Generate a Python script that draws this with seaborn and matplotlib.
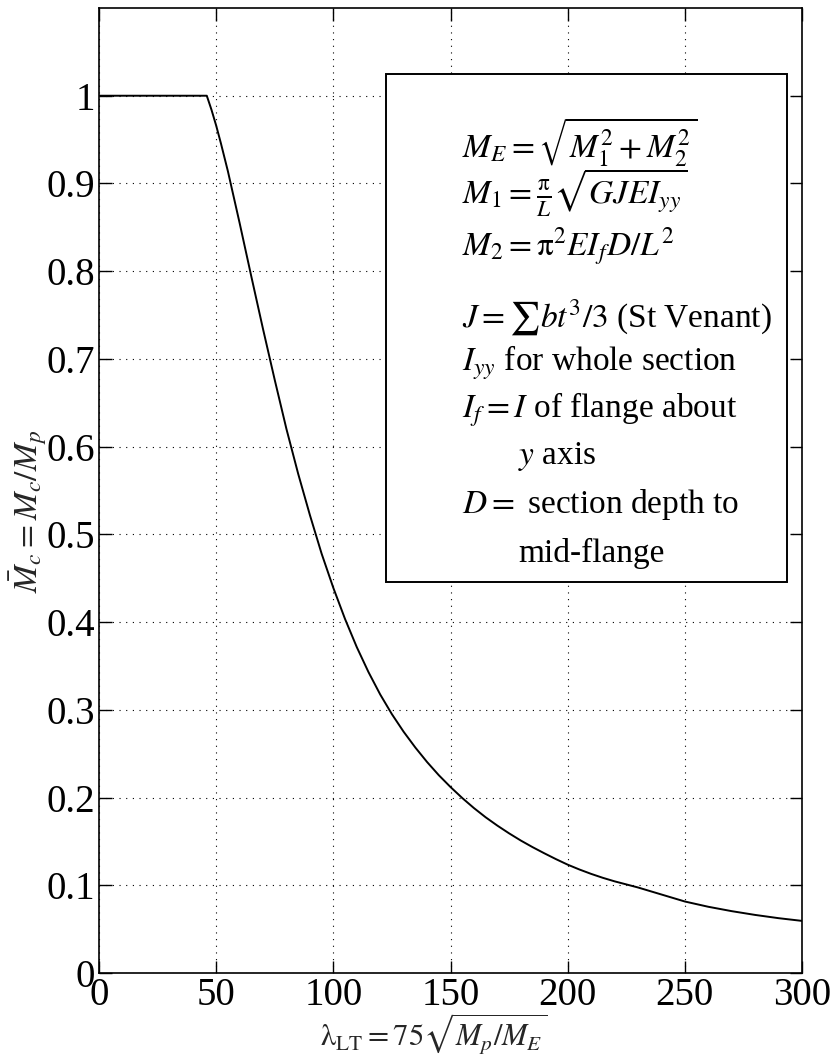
import matplotlib
matplotlib.use("Agg")
import matplotlib.pyplot as plt
import seaborn as sns
import pandas as pd
from matplotlib.patches import Rectangle

# ---- data ----
slenderness = [0, 46, 48, 50, 52, 55, 60, 65, 70, 75, 80, 85, 90, 95, 100,
               105, 110, 115, 120, 125, 130, 135, 140, 145, 150, 155, 160,
               165, 170, 175, 180, 185, 190, 195, 200, 205, 210, 215, 220,
               225, 230, 240, 250, 260, 270, 280, 290, 300]
moment_ratio = [1.0, 1.0, 0.984, 0.966, 0.946, 0.914, 0.855, 0.794, 0.734,
                0.676, 0.620, 0.569, 0.522, 0.478, 0.439, 0.4035, 0.3715,
                0.343, 0.3175, 0.295, 0.275, 0.257, 0.2405, 0.2255, 0.212,
                0.1995, 0.188, 0.1775, 0.168, 0.1592, 0.151, 0.1435, 0.1365,
                0.1298, 0.1235, 0.118, 0.113, 0.1085, 0.1045, 0.101, 0.0975,
                0.0895, 0.0815, 0.0755, 0.0705, 0.0662, 0.0625, 0.0594]
x_ticks = [0, 50, 100, 150, 200, 250, 300]
x_tick_labels = ["0", "50", "100", "150", "200", "250", "300"]
y_ticks = [0, 0.1, 0.2, 0.3, 0.4, 0.5, 0.6, 0.7, 0.8, 0.9, 1.0]
y_tick_labels = ["0", "0.1", "0.2", "0.3", "0.4", "0.5", "0.6", "0.7", "0.8", "0.9", "1"]
box_lines = [
    r"$M_E = \sqrt{M_1^2 + M_2^2}$",
    r"$M_1 = \frac{\mathrm{\pi}}{L}\sqrt{GJEI_{yy}}$",
    r"$M_2 = \mathrm{\pi}^2 EI_f D/L^2$",
    r"$J = \sum bt^3/3$ (St Venant)",
    r"$I_{yy}$ for whole section",
    r"$I_f = I$ of flange about",
    r"$y$ axis",
    r"$D =$ section depth to",
    r"mid-flange",
]
box_indent = [False, False, False, False, False, False, True, False, True]

sns.set_theme(style="ticks")
plt.rcParams["font.family"] = ["Liberation Serif", "DejaVu Serif"]
plt.rcParams["mathtext.fontset"] = "stix"

df = pd.DataFrame({"lam": slenderness, "m": moment_ratio})

fig = plt.figure(figsize=(8.35, 10.55), dpi=100)
ax = fig.add_axes([99 / 835, 1 - 973 / 1055, 703 / 835, 965 / 1055])

sns.lineplot(data=df, x="lam", y="m", ax=ax, color="black", linewidth=1.4,
             estimator=None, sort=False)

ax.set_xlim(0, 300)
ax.set_ylim(0, 1.1)
ax.set_xticks(x_ticks)
ax.set_xticklabels(x_tick_labels)
ax.set_yticks(y_ticks)
ax.set_yticklabels(y_tick_labels)
ax.tick_params(direction="in", length=9, width=1, top=True, right=True,
               labelsize=28, colors="black")
ax.tick_params(axis="x", pad=3)
ax.tick_params(axis="y", pad=3)
ax.grid(True, linestyle=(0, (1, 5)), color="black", linewidth=0.8)
for s in ax.spines.values():
    s.set_color("black")
    s.set_linewidth(1.2)
    s.set_visible(True)

ax.set_xlabel(r"$\mathrm{\lambda}_{\mathrm{LT}} = 75\sqrt{M_p/M_E}$", fontsize=22)
ax.xaxis.label.set_va("center")
ax.xaxis.set_label_coords(0.4765, -0.063)
ax.set_ylabel(r"$\bar{M}_c = M_c/M_p$", fontsize=24)
ax.yaxis.set_label_coords(-0.071, 0.478)

rect = Rectangle((0.408, 0.405), 0.571, 0.527, transform=ax.transAxes,
                 facecolor="white", edgecolor="black", linewidth=1.4, zorder=5)
ax.add_patch(rect)

ys = [0.8615, 0.8083, 0.7526, 0.6788, 0.632, 0.5834, 0.535, 0.4850, 0.4352]
for txt, yy, ind in zip(box_lines, ys, box_indent):
    ax.text(0.596 if ind else 0.516, yy, txt, transform=ax.transAxes,
            fontsize=24, va="center", ha="left", zorder=6, color="black")

fig.savefig("out.png", dpi=100, facecolor="white")
